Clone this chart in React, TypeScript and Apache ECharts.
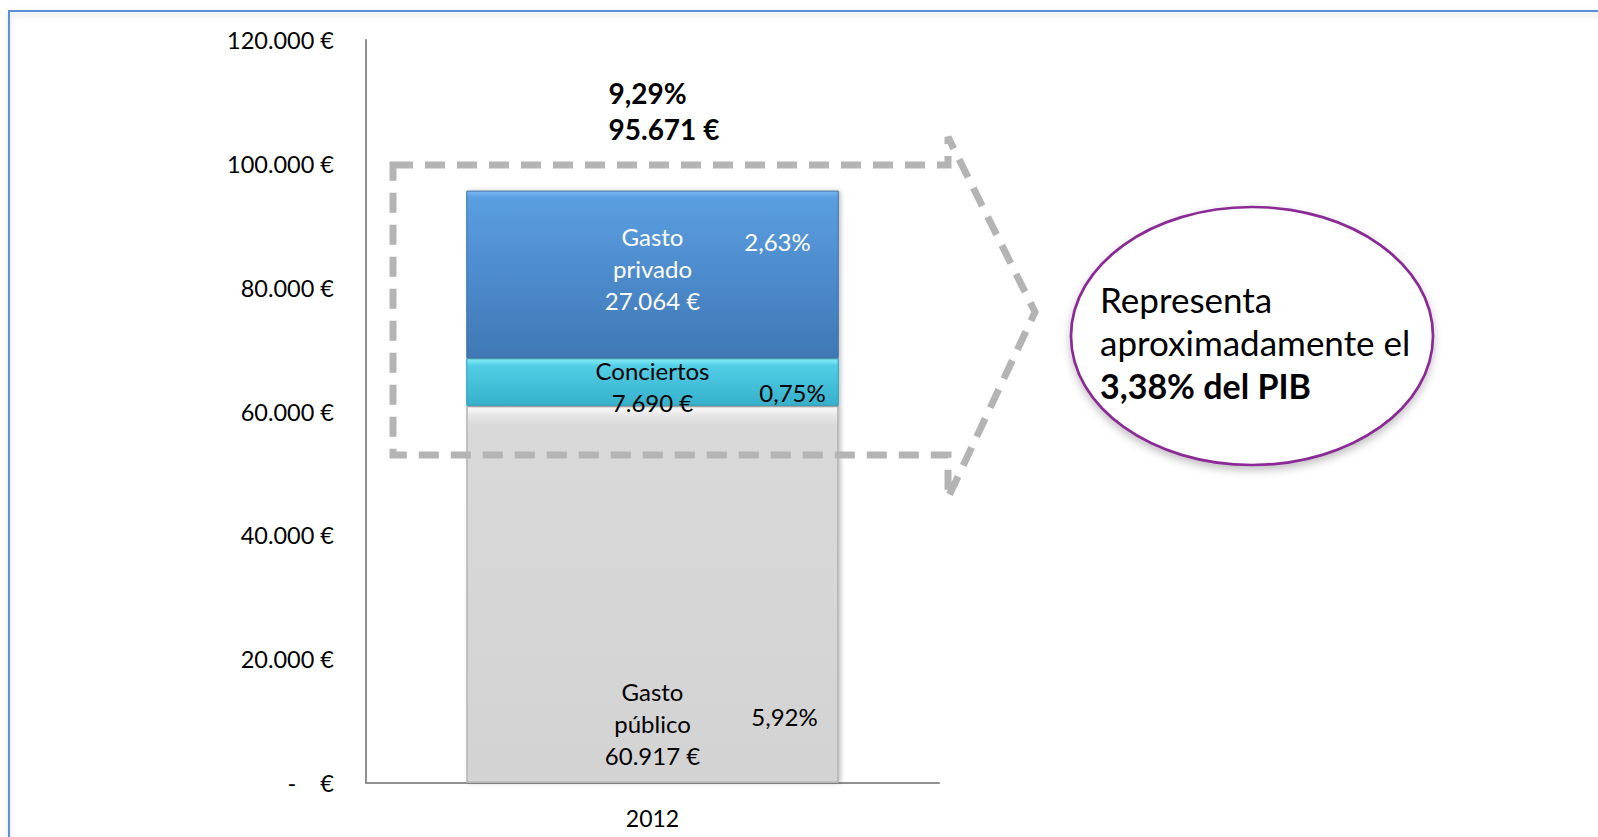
import React, { useEffect, useRef } from "react";
import * as echarts from "echarts";

const categories = ["2012"];
const publicoValues = [60917];
const conciertosValues = [7690];
const privadoValues = [27064];
const publicoLines = ["Gasto", "público"];
const conciertosLines = ["Conciertos"];
const privadoLines = ["Gasto", "privado"];
const publicoPct = "5,92%";
const conciertosPct = "0,75%";
const privadoPct = "2,63%";
const totalPct = "9,29%";
const totalValues = [95671];
const yTicks = { min: 0, max: 120000, interval: 20000 };
const calloutLines = ["Representa", "aproximadamente el", "3,38% del PIB"];

const FONT = "Lato, 'Open Sans', sans-serif";

function fmtEuro(v: number): string {
  if (v === 0) return "-\u00a0\u00a0\u00a0\u00a0€";
  return String(Math.round(v)).replace(/\B(?=(\d{3})+(?!\d))/g, ".") + " €";
}

function richLabel(lines: string[], pct: string, pctLine: number) {
  return lines
    .map((l, i) => `{s|\u00a0}{n|${l}}{p|${i === pctLine ? pct : "\u00a0"}}`)
    .join("\n");
}

function richStyles(pWidth: number, color: string, pPadding: number[]) {
  const base = { fontFamily: FONT, fontSize: 24, lineHeight: 32, color };
  return {
    s: { ...base, width: pWidth },
    n: { ...base, width: 170, align: "center" },
    p: { ...base, width: pWidth, align: "center", padding: pPadding },
  };
}

export default function App() {
  const ref = useRef<HTMLDivElement>(null);
  useEffect(() => {
    if (!ref.current) return;
    const chart = echarts.init(ref.current, null, { renderer: "svg" });
    const grad = (stops: [number, string][]) => ({
      type: "linear",
      x: 0,
      y: 0,
      x2: 0,
      y2: 1,
      colorStops: stops.map(([offset, color]) => ({ offset, color })),
    });
    const chev = [
      [393, 165],
      [948, 165],
      [948, 137],
      [1035, 312],
      [948, 498],
      [948, 455],
      [393, 455],
    ];
    chart.setOption({
      animation: false,
      backgroundColor: "#ffffff",
      textStyle: { fontFamily: FONT },
      grid: { left: 366, right: 659, top: 40, bottom: 54, containLabel: false },
      xAxis: {
        type: "category",
        data: categories,
        axisLine: { show: true, lineStyle: { color: "#8f8f8f", width: 2 } },
        axisTick: { show: false },
        axisLabel: { color: "#000", fontSize: 23, fontFamily: FONT, margin: 23 },
      },
      yAxis: {
        type: "value",
        min: yTicks.min,
        max: yTicks.max,
        interval: yTicks.interval,
        axisLine: { show: true, lineStyle: { color: "#8f8f8f", width: 2 } },
        axisTick: { show: false },
        splitLine: { show: false },
        axisLabel: {
          color: "#000",
          fontSize: 23.5,
          fontFamily: FONT,
          margin: 32,
          padding: [5, 0, 0, 0],
          formatter: (v: number) => fmtEuro(v),
        },
      },
      series: [
        {
          name: "Gasto público",
          type: "bar",
          stack: "total",
          barWidth: "65%",
          data: publicoValues,
          itemStyle: {
            color: grad([
              [0, "#ffffff"],
              [0.02, "#e8e8e8"],
              [0.05, "#d9d9d9"],
              [1, "#d3d3d3"],
            ]),
            borderColor: "#b3b3b3",
            borderWidth: 1.5,
            shadowBlur: 4,
            shadowColor: "rgba(0,0,0,0.25)",
            shadowOffsetX: 2,
          },
          label: {
            show: true,
            position: "insideBottom",
            distance: 12,
            formatter: (p: any) =>
              richLabel([...publicoLines, fmtEuro(p.value)], publicoPct, 1),
            rich: richStyles(94, "#000000", [0, 0, 14, 0]),
          },
        },
        {
          name: "Conciertos",
          type: "bar",
          stack: "total",
          data: conciertosValues,
          itemStyle: {
            color: grad([
              [0, "#8cf5ff"],
              [0.15, "#52cde6"],
              [1, "#36b1cb"],
            ]),
            borderColor: "#2f9ab4",
            borderWidth: 1,
            shadowBlur: 4,
            shadowColor: "rgba(0,0,0,0.25)",
            shadowOffsetX: 2,
          },
          label: {
            show: true,
            position: "inside",
            offset: [0, 4],
            formatter: (p: any) =>
              richLabel([...conciertosLines, fmtEuro(p.value)], conciertosPct, 1),
            rich: richStyles(110, "#000000", [0, 0, 20, 0]),
          },
        },
        {
          name: "Gasto privado",
          type: "bar",
          stack: "total",
          data: privadoValues,
          itemStyle: {
            color: grad([
              [0, "#78b9f2"],
              [0.04, "#5a9fe0"],
              [0.5, "#4d8bcd"],
              [1, "#3f78b4"],
            ]),
            borderColor: "#3a6ea5",
            borderWidth: 1,
            shadowBlur: 4,
            shadowColor: "rgba(0,0,0,0.25)",
            shadowOffsetX: 2,
          },
          label: {
            show: true,
            position: "inside",
            offset: [0, -6],
            formatter: (p: any) =>
              richLabel([...privadoLines, fmtEuro(p.value)], privadoPct, 0),
            rich: richStyles(80, "#ffffff", [10, 0, 0, 0]),
          },
        },
        {
          name: "Total",
          type: "scatter",
          data: totalValues,
          symbolSize: 0,
          silent: true,
          z: 5,
          itemStyle: { opacity: 1 },
          label: {
            show: true,
            position: "top",
            distance: 44,
            align: "left",
            offset: [-44, 0],
            color: "#000000",
            opacity: 1,
            fontFamily: FONT,
            fontWeight: "bold",
            fontSize: 28,
            lineHeight: 36,
            formatter: (p: any) => `${totalPct}\n${fmtEuro(p.value)}`,
          },
        },
      ],
      graphic: [
        {
          type: "rect",
          z: 1,
          shape: { x: 9, y: 11, width: 1700, height: 900 },
          style: {
            fill: "none",
            stroke: "#5b8fd5",
            lineWidth: 2,
            shadowBlur: 6,
            shadowColor: "rgba(0,0,0,0.18)",
            shadowOffsetY: 3,
          },
        },
        {
          type: "polygon",
          z: 20,
          shape: { points: chev },
          style: {
            fill: "none",
            stroke: "#b4b4b4",
            lineWidth: 7,
            lineDash: [20, 12],
            lineJoin: "miter",
          },
        },
        {
          type: "ellipse",
          z: 20,
          shape: { cx: 1252, cy: 336, rx: 181, ry: 129 },
          style: {
            fill: "#ffffff",
            stroke: "#8b2c96",
            lineWidth: 2.7,
            shadowBlur: 8,
            shadowColor: "rgba(0,0,0,0.25)",
            shadowOffsetY: 4,
          },
        },
        ...calloutLines.map((t, i) => ({
          type: "text",
          z: 21,
          x: 1100,
          y: 299 + i * 43,
          style: {
            text: t,
            fill: "#000",
            font: `${i === 2 ? "bold 34px" : "35px"} ${FONT}`,
            textAlign: "left",
            textVerticalAlign: "middle",
          },
        })),
      ],
    });
    return () => chart.dispose();
  }, []);
  return (
    <div
      ref={ref}
      style={{ position: "fixed", left: 0, top: 0, width: 1598, height: 837 }}
    />
  );
}
